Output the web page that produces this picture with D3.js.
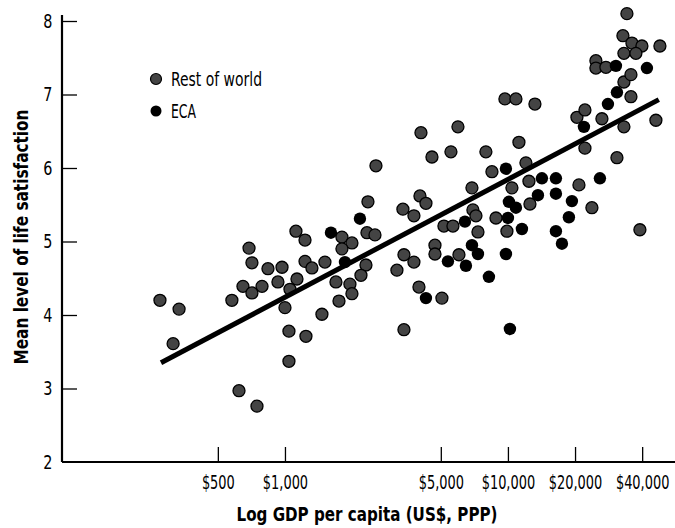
<!DOCTYPE html>
<html>
<head>
<meta charset="utf-8">
<script src="https://cdn.jsdelivr.net/npm/d3@7"></script>
<style>
  body { margin: 0; background: #fff; }
  text { font-family: 'DejaVu Sans Condensed', 'Liberation Sans Narrow', sans-serif; fill: #000; }
</style>
</head>
<body>
<div id="chart"></div>
<script>
// GDP per capita (US$, PPP) and mean life satisfaction
let restOfWorld = [
    [275, 4.20], [315, 3.61], [335, 4.08], [578, 4.20], [622, 2.97], [648, 4.39],
    [690, 4.91], [711, 4.71], [711, 4.30], [749, 2.76], [789, 4.39], [839, 4.63],
    [970, 4.65], [930, 4.45], [1000, 4.10], [1042, 3.78], [1042, 3.37], [1053, 4.35],
    [1120, 5.14], [1132, 4.49], [1230, 5.02], [1230, 4.73], [1321, 4.64], [1465, 4.01],
    [1511, 4.72], [1242, 3.71], [1693, 4.45], [1747, 4.19], [1801, 5.06], [1997, 4.98],
    [1801, 4.90], [1956, 4.42], [1997, 4.29], [2356, 5.54], [2332, 5.12], [2533, 5.09],
    [2308, 4.68], [2192, 4.54], [2559, 6.03], [3178, 4.61], [3381, 5.44], [3788, 5.35],
    [3417, 4.82], [3788, 4.72], [3417, 3.80], [3990, 4.38], [5058, 4.23], [4031, 5.62],
    [4289, 5.52], [4073, 6.48], [4563, 6.15], [5551, 6.22], [5968, 6.56], [4707, 4.95],
    [4707, 4.83], [5164, 5.21], [5667, 5.21], [6030, 4.82], [6896, 5.73], [6966, 5.43],
    [7187, 5.35], [7338, 5.13], [7965, 6.22], [8478, 5.95], [8837, 5.32], [9694, 6.94],
    [10861, 6.94], [13216, 6.87], [11204, 6.35], [12042, 6.07], [12424, 5.82], [10421, 5.73],
    [12553, 5.51], [9897, 5.14], [20395, 6.69], [20822, 5.77], [22151, 6.79], [22151, 6.27],
    [23805, 5.46], [26398, 6.67], [30825, 6.14], [33130, 6.56], [33130, 7.17], [35618, 6.97],
    [35618, 7.27], [46100, 6.65], [39076, 5.16], [24808, 7.46], [24808, 7.36], [27513, 7.37],
    [32789, 7.80], [35989, 7.70], [39895, 7.66], [48045, 7.66], [33130, 7.56], [37497, 7.56],
    [34170, 8.10]
];

let eca = [
    [1608, 5.12], [1858, 4.72], [2169, 5.31], [4289, 4.23], [5382, 4.73], [6415, 5.27],
    [6481, 4.67], [6896, 4.95], [7338, 4.83], [8218, 4.52], [9795, 5.99], [14205, 5.86],
    [16414, 5.86], [13631, 5.63], [16414, 5.65], [19364, 5.55], [10104, 5.54], [10861, 5.46],
    [10000, 5.32], [11556, 5.17], [9795, 4.83], [10209, 3.81], [18770, 5.33], [16414, 5.14],
    [17468, 4.97], [21923, 6.56], [25857, 5.86], [28085, 6.87], [30825, 7.03], [42009, 7.36],
    [30507, 7.39]
];

// ends of the fitted line
let fitLine = [[278, 3.35], [47500, 6.93]];

let xTicks = [500, 1000, 5000, 10000, 20000, 40000];
let xTickLabels = ["$500", "$1,000", "$5,000", "$10,000", "$20,000", "$40,000"];
let yTicks = [2, 3, 4, 5, 6, 7, 8];

let width = 675, height = 528;
let greyFill = "#444";

let svg = d3.select("#chart")
    .append("svg")
    .attr("width", width)
    .attr("height", height);

let x = d3.scaleLog().domain([100, 55000]).range([62, 673]);
let y = d3.scaleLinear().domain([2, 8]).range([462, 21]);

// points
svg.append("g")
    .selectAll("circle")
    .data(restOfWorld)
    .enter().append("circle")
    .attr("cx", d => x(d[0]))
    .attr("cy", d => y(d[1]))
    .attr("r", 6)
    .attr("fill", greyFill)
    .attr("stroke", "#000")
    .attr("stroke-width", 1.3);

svg.append("g")
    .selectAll("circle")
    .data(eca)
    .enter().append("circle")
    .attr("cx", d => x(d[0]))
    .attr("cy", d => y(d[1]))
    .attr("r", 6.2)
    .attr("fill", "#000");

// fitted line
let lineGenerator = d3.line()
    .x(d => x(d[0]))
    .y(d => y(d[1]));

svg.append("path")
    .datum(fitLine)
    .attr("fill", "none")
    .attr("stroke", "#000")
    .attr("stroke-width", 5)
    .attr("d", lineGenerator);

// axes, ticks point inward
let xAxis = d3.axisTop(x)
    .tickValues(xTicks)
    .tickFormat((d, i) => xTickLabels[i])
    .tickSizeInner(15)
    .tickSizeOuter(0);

let gx = svg.append("g")
    .attr("transform", "translate(0," + y(2) + ")")
    .call(xAxis);
gx.select(".domain").attr("stroke-width", 2.2).attr("d", "M" + x.range()[0] + ",0H" + 675);
gx.selectAll(".tick line").attr("stroke-width", 1.3);
// condensed look: squeeze the labels horizontally round the tick
gx.selectAll(".tick text")
    .attr("y", 27)
    .attr("transform", "scale(0.72,1)")
    .style("font-size", "20px")
    .style("font-family", "'DejaVu Sans Condensed', 'Liberation Sans Narrow', sans-serif");

let yAxis = d3.axisRight(y)
    .tickValues(yTicks)
    .tickFormat(d3.format("d"))
    .tickSizeInner(15)
    .tickSizeOuter(0);

let gy = svg.append("g")
    .attr("transform", "translate(" + x.range()[0] + ",0)")
    .call(yAxis);
gy.select(".domain").attr("stroke-width", 2.2).attr("d", "M0,15V" + y(2));
gy.selectAll(".tick line").attr("stroke-width", 1.3);
gy.selectAll(".tick text")
    .attr("x", -12)
    .attr("text-anchor", "end")
    .attr("transform", "scale(0.8,1)")
    .style("font-size", "20px")
    .style("font-family", "'DejaVu Sans Condensed', 'Liberation Sans Narrow', sans-serif");
gy.selectAll(".tick").filter(d => d === 2).select("line").remove();

// axis titles
svg.append("text")
    .attr("x", 367)
    .attr("y", 521)
    .attr("text-anchor", "middle")
    .style("font-size", "19px")
    .style("font-weight", "bold")
    .attr("textLength", 261)
    .attr("lengthAdjust", "spacingAndGlyphs")
    .text("Log GDP per capita (US$, PPP)");

svg.append("text")
    .attr("transform", "translate(28,237) rotate(-90)")
    .attr("text-anchor", "middle")
    .style("font-size", "19px")
    .style("font-weight", "bold")
    .attr("textLength", 255)
    .attr("lengthAdjust", "spacingAndGlyphs")
    .text("Mean level of life satisfaction");

// legend
let legend = [
    {label: "Rest of world", fill: greyFill, stroke: "#000", w: 91},
    {label: "ECA", fill: "#000", stroke: "none", w: 25}
];

let lg = svg.append("g").attr("transform", "translate(156,79)");
lg.selectAll("circle")
    .data(legend)
    .enter().append("circle")
    .attr("cx", 0)
    .attr("cy", (d, i) => i * 32)
    .attr("r", 5.5)
    .attr("fill", d => d.fill)
    .attr("stroke", d => d.stroke)
    .attr("stroke-width", 1.2);
lg.selectAll("text")
    .data(legend)
    .enter().append("text")
    .attr("x", 15)
    .attr("y", (d, i) => i * 32 + 7)
    .style("font-size", "19px")
    .attr("textLength", d => d.w)
    .attr("lengthAdjust", "spacingAndGlyphs")
    .text(d => d.label);
</script>
</body>
</html>
